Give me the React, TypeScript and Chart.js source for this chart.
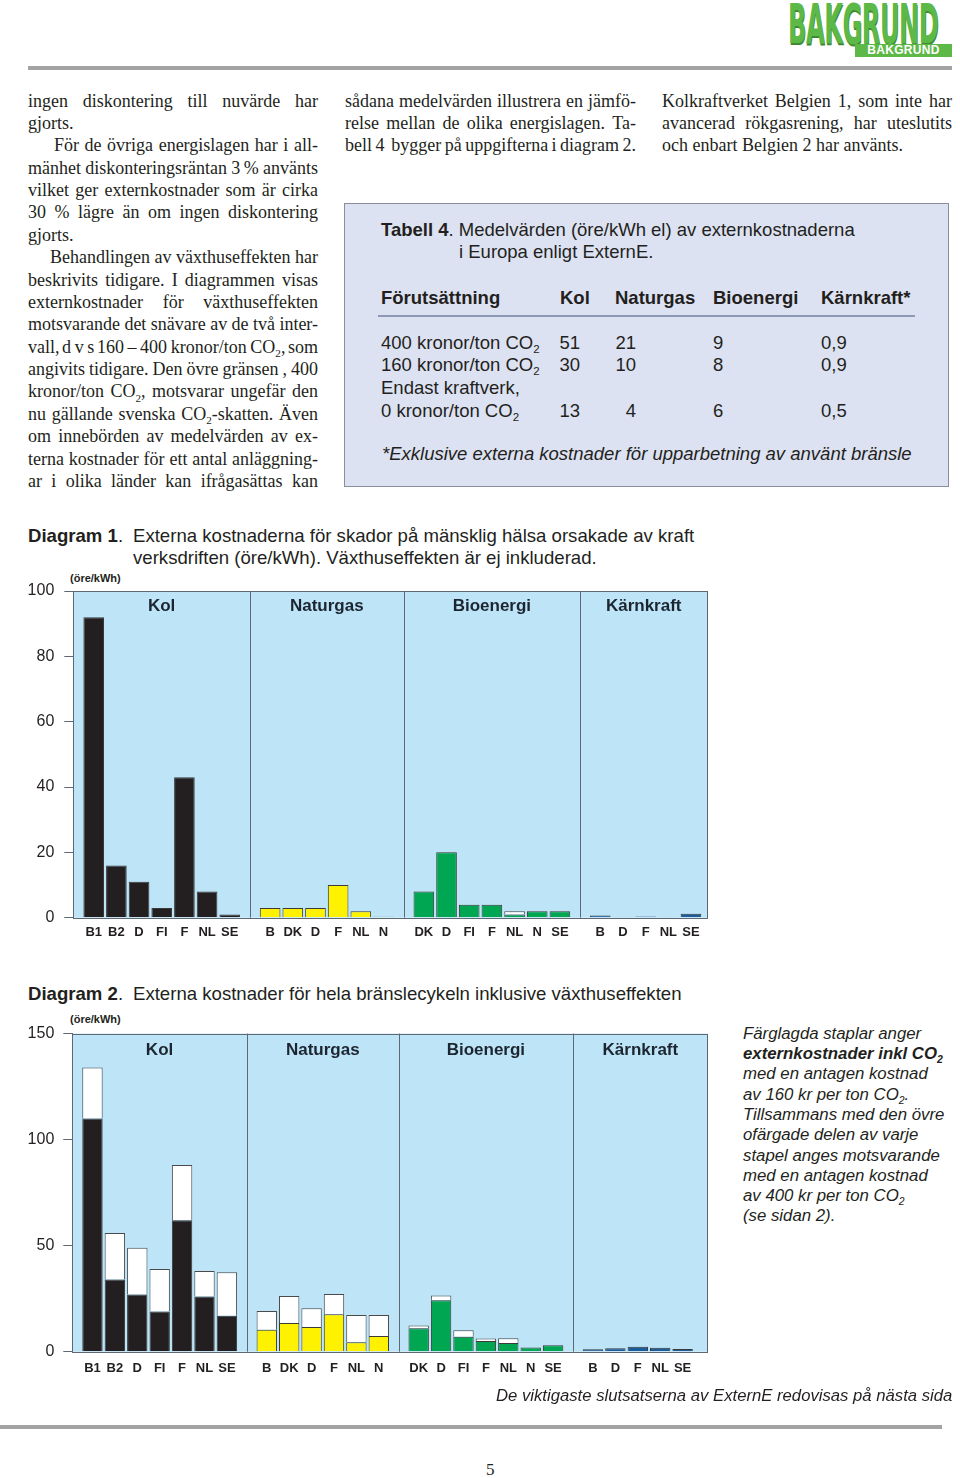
import React, { useEffect, useRef } from 'react';
import { Chart, registerables } from 'chart.js';

Chart.register(...registerables);

// ---------------- data ----------------
const groupTitles = ['Kol', 'Naturgas', 'Bioenergi', 'Kärnkraft'];
const kolLabels = ['B1', 'B2', 'D', 'FI', 'F', 'NL', 'SE'];
const gasLabels = ['B', 'DK', 'D', 'F', 'NL', 'N'];
const bioLabels = ['DK', 'D', 'FI', 'F', 'NL', 'N', 'SE'];
const nucLabels = ['B', 'D', 'F', 'NL', 'SE'];

// Diagram 1 (öre/kWh)
const d1Kol = [92, 16, 11, 3, 43, 8, 1];
const d1Gas = [3, 3, 3, 10, 2, 0.3];
const d1Bio = [8, 20, 4, 4, 1, 2, 2];
const d1BioUncoloured = [0, 0, 0, 0, 1, 0, 0];
const d1Nuc = [0.7, 0.2, 0.4, 0.2, 1.2];

// Diagram 2 (öre/kWh): coloured part = 160 kr/ton CO2, full bar = 400 kr/ton CO2
const d2Kol160 = [110, 34, 27, 19, 62, 26, 17];
const d2Kol400 = [134, 56, 49, 39, 88, 38, 37.5];
const d2Gas160 = [10.4, 13.5, 11.7, 17.7, 4.4, 7.4];
const d2Gas400 = [19.2, 26.3, 20.5, 27.2, 17.3, 17.3];
const d2Bio160 = [11, 24.3, 7.1, 5, 4.1, 2, 3.1];
const d2Bio400 = [12.4, 26.5, 10.1, 6.2, 6.3, 2, 3.1];
const d2Nuc160 = [1.2, 1.6, 2.3, 1.9, 1.3];
const d2Nuc400 = [1.2, 1.6, 2.3, 1.9, 1.3];

const yTicks1 = [0, 20, 40, 60, 80, 100];
const yTicks2 = [0, 50, 100, 150];

// Table 4
const tableHeader = ['Förutsättning', 'Kol', 'Naturgas', 'Bioenergi', 'Kärnkraft*'];
const row400 = ['51', '21', '9', '0,9'];
const row160 = ['30', '10', '8', '0,9'];
const row0 = ['13', '4', '6', '0,5'];

// ---------------- style ----------------
const SANS = '"Liberation Sans", Arial, Helvetica, sans-serif';
const SERIF = '"Liberation Serif", "Times New Roman", serif';
const INK = '#231f20';
const PLOT_BG = '#bde4f7';
const FRAME = '#5d6874';
const groupColours = ['#231f20', '#fff200', '#00a651', '#1d5c9b'];
const GROUP_GAP = 0.78;
const TS = 18.5; // table font size
const DS = 18.6; // diagram caption font size

Chart.defaults.font.family = SANS;

const groupLabels = [kolLabels, gasLabels, bioLabels, nucLabels];

function buildLayout() {
  const pos: number[] = [];
  const labels: string[] = [];
  const colours: string[] = [];
  const ranges: number[][] = [];
  let cursor = 0;
  groupLabels.forEach((g, gi) => {
    const start = cursor + gi * GROUP_GAP;
    g.forEach((l, i) => {
      pos.push(start + i);
      labels.push(l);
      colours.push(groupColours[gi]);
    });
    ranges.push([start, start + g.length - 1]);
    cursor += g.length;
  });
  return { pos, labels, colours, ranges };
}

const panelPlugin = {
  id: 'panel',
  beforeDraw(chart: any) {
    const { ctx, chartArea: a } = chart;
    ctx.save();
    ctx.fillStyle = PLOT_BG;
    ctx.fillRect(a.left, a.top, a.right - a.left, a.bottom - a.top);
    ctx.restore();
  },
  beforeDatasetsDraw(chart: any, _a: any, opts: any) {
    const { ctx, chartArea: a, scales } = chart;
    const x = scales.x;
    const ranges = opts.ranges as number[][];
    const bounds = [a.left];
    for (let g = 1; g < ranges.length; g++) {
      bounds.push(x.getPixelForValue((ranges[g - 1][1] + ranges[g][0]) / 2));
    }
    bounds.push(a.right);
    ctx.save();
    ctx.strokeStyle = FRAME;
    ctx.lineWidth = 1;
    for (let i = 1; i < bounds.length - 1; i++) {
      const px = Math.round(bounds[i]) + 0.5;
      ctx.beginPath();
      ctx.moveTo(px, a.top);
      ctx.lineTo(px, a.bottom);
      ctx.stroke();
    }
    ctx.strokeRect(Math.round(a.left) + 0.5, Math.round(a.top) + 0.5, Math.round(a.right - a.left), Math.round(a.bottom - a.top));
    ctx.fillStyle = '#1c2530';
    ctx.font = `bold 17px ${SANS}`;
    ctx.textAlign = 'center';
    ctx.textBaseline = 'middle';
    groupTitles.forEach((t, i) => ctx.fillText(t, (bounds[i] + bounds[i + 1]) / 2, a.top + opts.titleOffset));
    ctx.restore();
  },
};

type PanelProps = {
  top: number; width: number; height: number;
  coloured: number[]; uncoloured: number[];
  yMax: number; yTicks: number[]; xMax: number;
  padTop: number; padRight: number; yAxisWidth: number; xAxisHeight: number;
  titleOffset: number; yPad: number; xPad: number;
};

function BarPanel(p: PanelProps) {
  const ref = useRef<HTMLCanvasElement>(null);
  useEffect(() => {
    const { pos, labels, colours, ranges } = buildLayout();
    const chart = new Chart(ref.current as HTMLCanvasElement, {
      type: 'bar',
      data: {
        datasets: [
          {
            data: pos.map((x, i) => ({ x, y: p.coloured[i] })),
            backgroundColor: colours,
            borderColor: '#3a3a3a',
            borderWidth: 1,
          },
          {
            data: pos.map((x, i) => ({ x, y: p.uncoloured[i] })),
            backgroundColor: '#ffffff',
            borderColor: '#4a4a4a',
            borderWidth: 1,
          },
        ],
      } as any,
      options: {
        animation: false,
        responsive: false,
        events: [],
        layout: { padding: { top: p.padTop, right: p.padRight, left: 0, bottom: 0 } },
        datasets: { bar: { barPercentage: 0.91, categoryPercentage: 1 } },
        plugins: {
          legend: { display: false },
          tooltip: { enabled: false },
          panel: { ranges, titleOffset: p.titleOffset },
        } as any,
        scales: {
          x: {
            type: 'linear',
            stacked: true,
            min: -0.9,
            max: p.xMax,
            offset: false,
            grid: { display: false, drawTicks: false },
            border: { display: false },
            afterBuildTicks: (s: any) => { s.ticks = pos.map((v) => ({ value: v })); },
            afterFit: (s: any) => { s.height = p.xAxisHeight; },
            ticks: {
              autoSkip: false, maxRotation: 0, minRotation: 0, padding: p.xPad,
              font: { size: 13, weight: 'bold' }, color: INK,
              callback: (_v: any, i: number) => labels[i],
            },
          } as any,
          y: {
            stacked: true,
            min: 0,
            max: p.yMax,
            grid: { drawOnChartArea: false, drawTicks: true, tickLength: 9, color: FRAME },
            border: { display: true, color: FRAME },
            afterBuildTicks: (s: any) => { s.ticks = p.yTicks.map((v) => ({ value: v })); },
            afterFit: (s: any) => { s.width = p.yAxisWidth; },
            ticks: { padding: p.yPad, font: { size: 16 }, color: INK },
          } as any,
        },
      },
      plugins: [panelPlugin as any],
    });
    return () => chart.destroy();
  }, []);
  return (
    <canvas
      ref={ref}
      width={p.width}
      height={p.height}
      style={{ position: 'absolute', left: 0, top: p.top, width: p.width, height: p.height }}
    />
  );
}

// ---------------- text helpers ----------------
function Rich({ text }: { text: string }) {
  const parts = text.split(/(_2)/);
  return (
    <>
      {parts.map((s, i) =>
        s === '_2' ? (
          <span key={i} style={{ fontSize: '0.62em', position: 'relative', top: '0.38em' }}>2</span>
        ) : (
          <React.Fragment key={i}>{s}</React.Fragment>
        )
      )}
    </>
  );
}

type TxtProps = {
  x: number; b: number; size: number; font?: string; weight?: number; italic?: boolean;
  color?: string; children?: any; w?: number; align?: 'left' | 'right';
};
function Txt({ x, b, size, font = SANS, weight = 400, italic = false, color = INK, children, w, align = 'left' }: TxtProps) {
  const asc = font === SERIF ? 0.8375 : 0.8465;
  return (
    <div
      style={{
        position: 'absolute',
        left: align === 'right' ? x - (w || 100) : x,
        top: b - asc * size,
        width: w ?? (align === 'right' ? 100 : undefined),
        textAlign: align,
        fontSize: size,
        lineHeight: `${size}px`,
        fontFamily: font,
        fontWeight: weight,
        fontStyle: italic ? 'italic' : 'normal',
        color,
        whiteSpace: 'nowrap',
      }}
    >
      {children}
    </div>
  );
}

function JLine({ x, b, w, text, justify }: { x: number; b: number; w: number; text: string; justify: boolean }) {
  const size = 18;
  const top = b - 0.8375 * size;
  const base: any = {
    position: 'absolute', left: x, top, fontFamily: SERIF, fontSize: size,
    lineHeight: `${size}px`, color: INK, whiteSpace: 'nowrap',
  };
  if (!justify) return <div style={base}><Rich text={text} /></div>;
  const words = text.split(' ');
  return (
    <div style={{ ...base, width: w, display: 'flex', justifyContent: 'space-between' }}>
      {words.map((wd, i) => (
        <span key={i}><Rich text={wd} /></span>
      ))}
    </div>
  );
}

const col1: [string, number, boolean][] = [
  ['ingen diskontering till nuvärde har', 0, true],
  ['gjorts.', 0, false],
  ['För de övriga energislagen har i all-', 26, true],
  ['mänhet diskonteringsräntan 3\u2009% använts', 0, true],
  ['vilket ger externkostnader som är cirka', 0, true],
  ['30 % lägre än om ingen diskontering', 0, true],
  ['gjorts.', 0, false],
  ['Behandlingen av växthuseffekten har', 22, true],
  ['beskrivits tidigare. I diagrammen visas', 0, true],
  ['externkostnader för växthuseffekten', 0, true],
  ['motsvarande det snävare av de två inter-', 0, true],
  ['vall, d\u2009v\u2009s 160\u2009–\u2009400\u2009kronor/ton\u2009CO_2, som', 0, true],
  ['angivits tidigare. Den övre gränsen , 400', 0, true],
  ['kronor/ton CO_2, motsvarar ungefär den', 0, true],
  ['nu gällande svenska CO_2-skatten. Även', 0, true],
  ['om innebörden av medelvärden av ex-', 0, true],
  ['terna kostnader för ett antal anläggning-', 0, true],
  ['ar i olika länder kan ifrågasättas kan', 0, true],
];
const col2: [string, number, boolean][] = [
  ['sådana medelvärden illustrera en jämfö-', 0, true],
  ['relse mellan de olika energislagen. Ta-', 0, true],
  ['bell 4  bygger på uppgifterna i diagram 2.', 0, true],
];
const col3: [string, number, boolean][] = [
  ['Kolkraftverket Belgien 1, som inte har', 0, true],
  ['avancerad rökgasrening, har uteslutits', 0, true],
  ['och enbart Belgien 2 har använts.', 0, false],
];

const noteLines = [
  'Färglagda staplar anger',
  '**externkostnader inkl CO_2',
  'med en antagen kostnad',
  'av 160 kr per ton CO_2.',
  'Tillsammans med den övre',
  'ofärgade delen av varje',
  'stapel anges motsvarande',
  'med en antagen kostnad',
  'av 400 kr per ton CO_2',
  '(se sidan 2).',
];

function Column({ lines, x, w }: { lines: [string, number, boolean][]; x: number; w: number }) {
  return (
    <>
      {lines.map(([t, ind, j], i) => (
        <JLine key={i} x={x + ind} w={w - ind} b={106.7 + 22.37 * i} text={t} justify={j} />
      ))}
    </>
  );
}

export default function App() {
  const d1Coloured = [...d1Kol, ...d1Gas, ...d1Bio, ...d1Nuc];
  const d1White = [...d1Kol.map(() => 0), ...d1Gas.map(() => 0), ...d1BioUncoloured, ...d1Nuc.map(() => 0)];
  const d2Coloured = [...d2Kol160, ...d2Gas160, ...d2Bio160, ...d2Nuc160];
  const d2Total = [...d2Kol400, ...d2Gas400, ...d2Bio400, ...d2Nuc400];
  const d2White = d2Total.map((t, i) => Math.max(0, t - d2Coloured[i]));

  const colX = [560, 615, 713, 821];
  const rowB = [349.3, 371.7, 417.3];
  const rows = [row400, row160, row0];
  const rowLabels = ['400 kronor/ton CO_2', '160 kronor/ton CO_2', '0 kronor/ton CO_2'];

  return (
    <div style={{ position: 'absolute', left: 0, top: 0, width: 960, height: 1478, background: '#fff', overflow: 'hidden' }}>
      {/* logo */}
      <div
        style={{
          position: 'absolute', left: 788, top: -4, fontFamily: '"Liberation Sans Narrow", "DejaVu Sans Condensed", sans-serif',
          fontWeight: 700, fontSize: 56, lineHeight: '56px', color: '#5cb947', transform: 'scaleX(0.48)',
          transformOrigin: 'left top', letterSpacing: -1, textShadow: '1px 2px 0 #3e8a30', whiteSpace: 'nowrap',
        }}
      >
        BAKGRUND
      </div>
      <div
        style={{
          position: 'absolute', left: 855, top: 44, width: 97, height: 13, background: '#5cb947', color: '#fff',
          fontFamily: SANS, fontWeight: 700, fontSize: 12, lineHeight: '13px', textAlign: 'center', letterSpacing: 0.3,
        }}
      >
        BAKGRUND
      </div>
      <div style={{ position: 'absolute', left: 28, top: 66, width: 924, height: 4, background: '#a3a3a3' }} />

      {/* body text */}
      <Column lines={col1} x={28} w={290} />
      <Column lines={col2} x={345} w={291} />
      <Column lines={col3} x={662} w={290} />

      {/* table 4 */}
      <div
        style={{
          position: 'absolute', left: 344, top: 203, width: 605, height: 284, boxSizing: 'border-box',
          border: '1.5px solid #8a8e98', background: '#dde2f2',
        }}
      />
      <Txt x={381} b={236.7} size={TS}>
        <b>Tabell 4</b>. Medelvärden (öre/kWh el) av externkostnaderna
      </Txt>
      <Txt x={459} b={258.3} size={TS}>i Europa enligt ExternE.</Txt>
      <Txt x={381} b={304.3} size={TS} weight={700}>{tableHeader[0]}</Txt>
      {tableHeader.slice(1).map((h, i) => (
        <Txt key={h} x={colX[i]} b={304.3} size={TS} weight={700}>{h}</Txt>
      ))}
      <div style={{ position: 'absolute', left: 378, top: 315, width: 537, height: 1.5, background: '#8e99b3' }} />
      {rows.map((r, ri) => (
        <React.Fragment key={ri}>
          <Txt x={381} b={rowB[ri]} size={TS}><Rich text={rowLabels[ri]} /></Txt>
          <Txt x={580} w={40} align="right" b={rowB[ri]} size={TS}>{r[0]}</Txt>
          <Txt x={636} w={40} align="right" b={rowB[ri]} size={TS}>{r[1]}</Txt>
          <Txt x={colX[2]} b={rowB[ri]} size={TS}>{r[2]}</Txt>
          <Txt x={colX[3]} b={rowB[ri]} size={TS}>{r[3]}</Txt>
        </React.Fragment>
      ))}
      <Txt x={381} b={394.3} size={TS}>Endast kraftverk,</Txt>
      <Txt x={382} b={461} size={TS} italic>*Exklusive externa kostnader för upparbetning av använt bränsle</Txt>

      {/* diagram 1 */}
      <Txt x={28} b={542.5} size={DS}><b>Diagram 1</b>.</Txt>
      <Txt x={133} b={542.5} size={DS}>Externa kostnaderna för skador på mänsklig hälsa orsakade av kraft</Txt>
      <Txt x={133} b={564.5} size={DS}>verksdriften (öre/kWh). Växthuseffekten är ej inkluderad.</Txt>
      <Txt x={70} b={582} size={11} weight={700}>(öre/kWh)</Txt>
      <BarPanel
        top={565} width={720} height={385}
        coloured={d1Coloured} uncoloured={d1White}
        yMax={100} yTicks={yTicks1} xMax={27.06}
        padTop={26} padRight={12.7} yAxisWidth={73.3} xAxisHeight={32.3}
        titleOffset={15} yPad={10} xPad={7}
      />

      {/* diagram 2 */}
      <Txt x={28} b={1000.5} size={DS}><b>Diagram 2</b>.</Txt>
      <Txt x={133} b={1000.5} size={DS}>Externa kostnader för hela bränslecykeln inklusive växthuseffekten</Txt>
      <Txt x={70} b={1023} size={11} weight={700}>(öre/kWh)</Txt>
      <BarPanel
        top={1015} width={720} height={375}
        coloured={d2Coloured} uncoloured={d2White}
        yMax={150} yTicks={yTicks2} xMax={27.46}
        padTop={17.5} padRight={12.3} yAxisWidth={72.3} xAxisHeight={38.3}
        titleOffset={17} yPad={9} xPad={8.5}
      />

      {/* note */}
      {noteLines.map((t, i) => (
        <Txt key={i} x={743} b={1040 + 20.3 * i} size={16.8} italic weight={t.startsWith('**') ? 700 : 400}>
          <Rich text={t.replace('**', '')} />
        </Txt>
      ))}

      <Txt x={496} b={1402} size={16.7} italic>De viktigaste slutsatserna av ExternE redovisas på nästa sida</Txt>
      <div style={{ position: 'absolute', left: 0, top: 1425, width: 942, height: 4, background: '#a3a3a3' }} />
      <Txt x={486} b={1475} size={17} font={SERIF}>5</Txt>
    </div>
  );
}
